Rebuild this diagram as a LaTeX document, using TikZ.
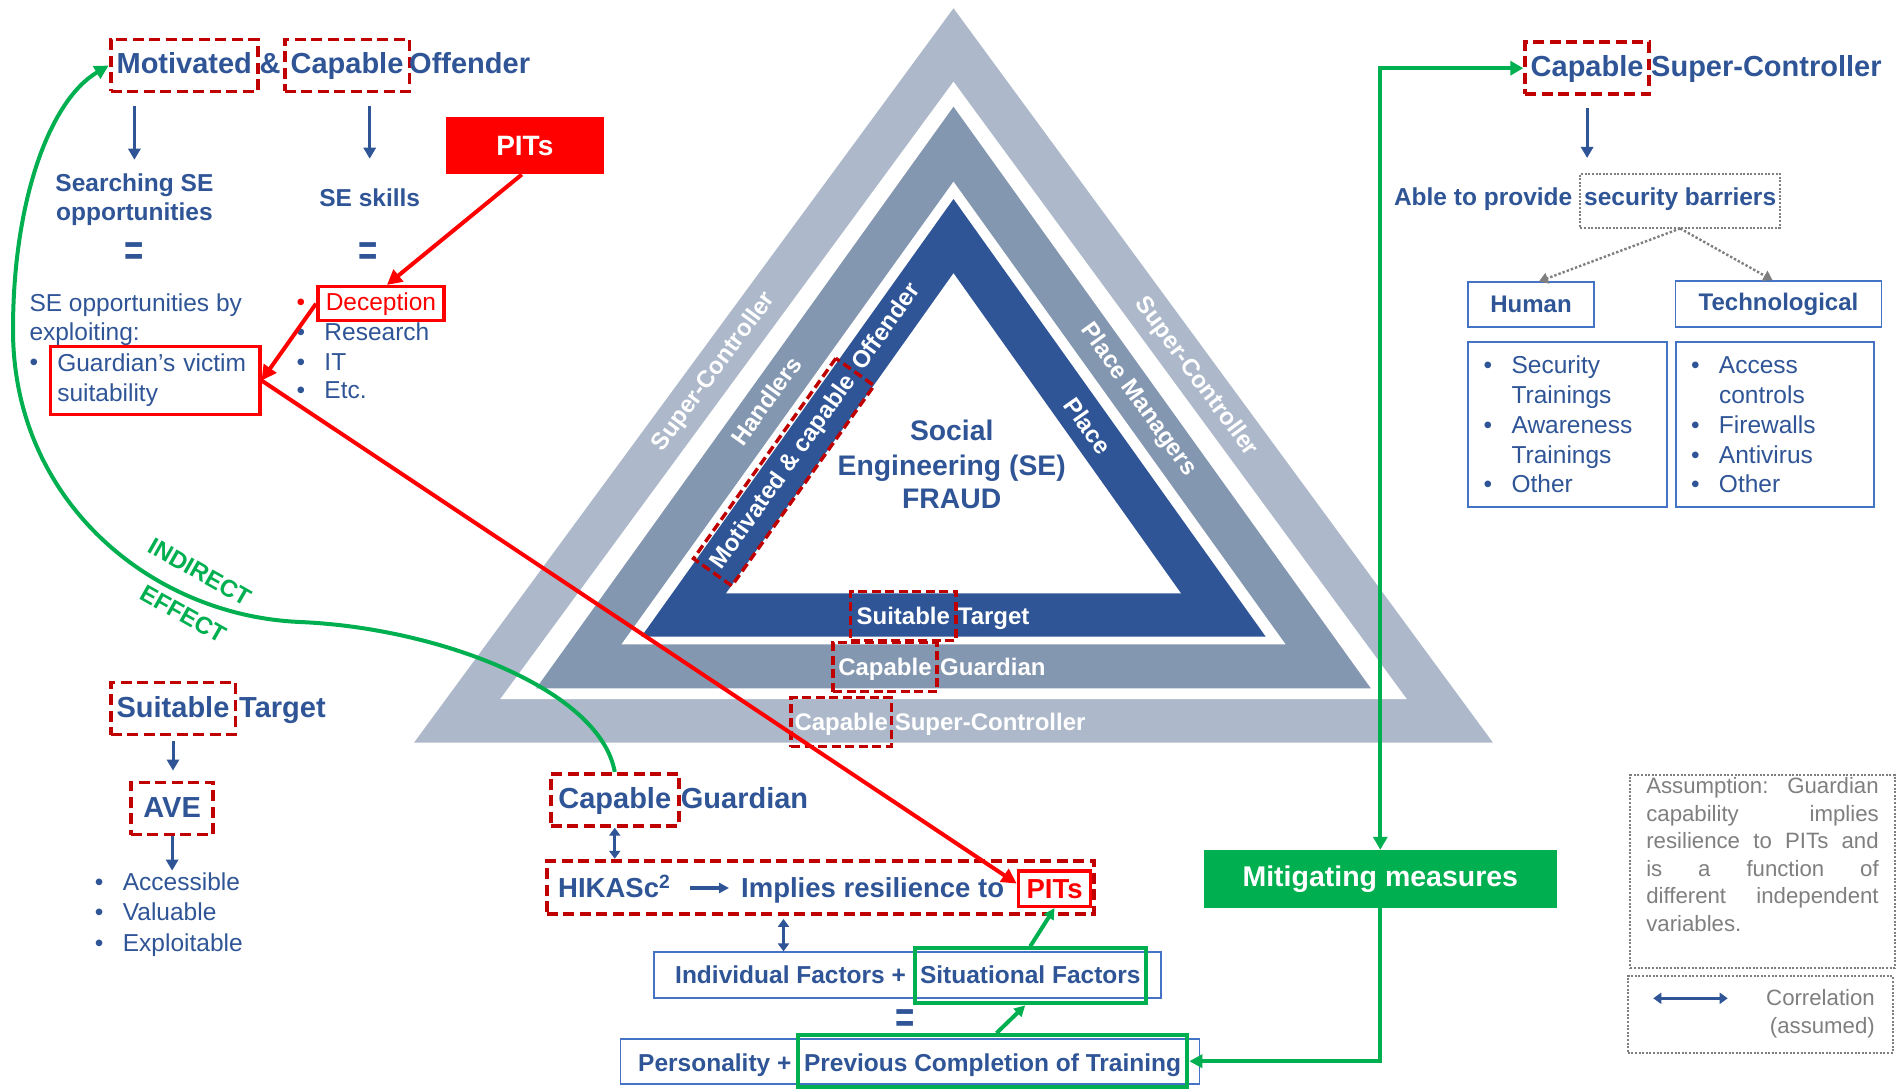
\documentclass[tikz,border=0pt]{standalone}
\usepackage{fontspec}
\usepackage{graphicx}
\setmainfont{Liberation Sans}
\usetikzlibrary{arrows.meta,calc}

\definecolor{tblue}{HTML}{2F5597}
\definecolor{dred}{HTML}{C00000}
\definecolor{bred}{HTML}{FF0000}
\definecolor{grn}{HTML}{00B050}
\definecolor{bandA}{HTML}{ADB9CA}
\definecolor{bandB}{HTML}{8497B0}
\definecolor{bandC}{HTML}{2F5597}
\definecolor{boxblue}{HTML}{4472C4}
\definecolor{gtext}{HTML}{7F7F7F}

\newcommand\fz[2]{\fontsize{#1}{#2}\selectfont}
\newcommand\bul[1]{\makebox[28pt][l]{•}#1}
\newcommand\eqsign{\scalebox{0.75}[1]{=}}

\begin{document}
\begin{tikzpicture}[x=1pt,y=1pt,
  txt/.style={inner sep=0pt, text=tblue, font=\fz{24.5}{30}},
  hd/.style={inner sep=0pt, text=tblue, font=\bfseries\fz{29}{34}},
  hdm/.style={inner sep=0pt, text=tblue, font=\bfseries\fz{27.5}{32}},
  hds/.style={inner sep=0pt, text=tblue, font=\bfseries\fz{24.5}{29}},
  bandtxt/.style={inner sep=0pt, text=white, font=\bfseries\fz{24}{28}},
  eqs/.style={inner sep=0pt, text=tblue, font=\bfseries\fz{44}{48}},
  gtxt/.style={inner sep=0pt, text=gtext, font=\fz{22.2}{27.5}},
  dbox/.style={draw=dred, line width=3.8pt, dash pattern=on 11pt off 5.5pt,
    inner xsep=6pt, inner ysep=12.5pt, text height=22pt, text depth=5pt},
  dboxs/.style={dbox, line width=3.4pt, dash pattern=on 9pt off 4.5pt,
    text height=20pt, text depth=4pt},
  rbox/.style={draw=bred, line width=3.5pt},
  bbox/.style={draw=boxblue, line width=1.8pt},
  gbox/.style={draw=grn, line width=4pt},
  gdotbox/.style={draw=gtext, line width=2pt, dash pattern=on 2pt off 1.6pt},
  barrow/.style={draw=tblue, line width=3pt, -{Triangle[length=11pt,width=12pt]}},
  darrow/.style={draw=tblue, line width=2.8pt,
    {Triangle[length=8pt,width=11pt]}-{Triangle[length=8pt,width=11pt]}},
  rarrow/.style={draw=bred, line width=4pt, -{Triangle[length=15pt,width=15pt]}},
  garrow/.style={draw=grn, line width=4pt, -{Triangle[length=13pt,width=13pt]}},
  garrowb/.style={draw=grn, line width=4pt,
    {Triangle[length=13pt,width=14pt]}-{Triangle[length=13pt,width=14pt]}},
  gdarrow/.style={draw=gtext, line width=2.4pt, dash pattern=on 2.4pt off 2pt,
    -{Triangle[length=9pt,width=11pt]}},
]
\useasboundingbox (0,0) rectangle (1899,-1089);
\fill[white] (0,0) rectangle (1899,-1089);

% ---------- layered crime triangle ----------
\fill[bandA] (953.5,-8.3) -- (414,-742.7) -- (1493,-742.7) -- cycle;
\fill[white] (953.5,-81.7) -- (500.3,-699) -- (1406.7,-699) -- cycle;
\fill[bandB] (953.5,-106.7) -- (536.2,-688.3) -- (1370.8,-688.3) -- cycle;
\fill[white] (953.5,-181.7) -- (621.5,-644.3) -- (1285.5,-644.3) -- cycle;
\fill[bandC] (953.5,-199) -- (641.3,-636.7) -- (1265.7,-636.7) -- cycle;
\fill[white] (953.5,-273.3) -- (726.1,-593.3) -- (1180.9,-593.3) -- cycle;

% side labels
\node[bandtxt, rotate=53.7] (scl) at (714,-372) {Super-Controller};
\node[bandtxt, rotate=54.3] (hnd) at (766,-401) {Handlers};
\node[bandtxt, dboxs, rotate=54.6, inner xsep=6.8pt, inner ysep=12pt,
      text height=18pt, text depth=5pt] (mcb) at (783.8,-472.1) {Motivated \& capable};
\node[bandtxt, rotate=54.6, anchor=west, text height=18pt, text depth=5pt]
      (mco) at ([shift={(54.6:3pt)}]mcb.east) {Offender};
\node[bandtxt, rotate=-53.7] (scr) at (1196,-377) {Super-Controller};
\node[bandtxt, rotate=-54.3] (pmg) at (1138,-400) {Place Managers};
\node[bandtxt, rotate=-54.6] (plc) at (1088,-426) {Place};

% centre title
\node[hd, font=\bfseries\fz{28.3}{34}, anchor=base] (so1) at (951.7,-440) {Social};
\node[hd, font=\bfseries\fz{28.3}{34}, anchor=base] (so2) at (951.7,-475) {Engineering (SE)};
\node[hd, font=\bfseries\fz{28.3}{34}, anchor=base] (so3) at (951.7,-508.3) {FRAUD};

% bottom labels
\node[bandtxt, dboxs, anchor=base west, inner xsep=5.9pt] (stb) at (849,-624) {Suitable};
\node[bandtxt, anchor=base west] (tgb) at (957.7,-624) {Target};
\node[bandtxt, dboxs, anchor=base west, inner xsep=5.2pt] (cgb) at (831.4,-675) {Capable};
\node[bandtxt, anchor=base west] (gdb) at (940,-675) {Guardian};
\node[bandtxt, dboxs, anchor=base west, inner xsep=3.5pt] (csb) at (789.3,-730) {Capable};
\node[bandtxt, anchor=base west] (scb) at (894.6,-730) {Super-Controller};

% ---------- offender column ----------
\node[hd, dbox, anchor=base west] (mot) at (108.7,-74) {Motivated};
\node[hd, anchor=base west] (amp) at (259.5,-74) {\&};
\node[hd, dbox, anchor=base west] (cap1) at (282.7,-74) {Capable};
\node[hd, anchor=base west] (off) at (409,-74) {Offender};

\node[hds, anchor=base] (srch1) at (134.4,-191.7) {Searching SE};
\node[hds, anchor=base] (srch2) at (134.4,-220) {opportunities};
\node[hds, anchor=base] (skl) at (369.7,-206.7) {SE skills};
\draw[barrow, shorten <=13pt, shorten >=14pt] (mot.south -| srch1.north) -- (srch1.north);
\draw[barrow, shorten <=13pt, shorten >=30pt] (skl.north |- cap1.south) -- (skl.north);

\node[eqs, anchor=base] (eq1) at (134.4,-265.6) {\eqsign};
\node[eqs, anchor=base] (eq2) at (368.5,-265.6) {\eqsign};

\node[txt, anchor=base west] (opp1) at (29.3,-311.7) {SE opportunities by};
\node[txt, anchor=base west] (opp2) at (29.3,-340) {exploiting:};
\node[txt, anchor=base west] (gbul) at (29.3,-370) {•};
\node[txt, rbox, align=left, text width=195.8pt, inner xsep=6.7pt,
      minimum width=209.2pt, minimum height=67.6pt] (gvs) at (155.2,-380.5)
      {Guardian’s victim\\suitability};

\node[txt, text=bred, anchor=base west] (dbul) at (296.3,-310) {•};
\node[txt, rbox, text=bred, anchor=base west, inner xsep=8pt, inner ysep=6pt,
      text height=17.3pt, text depth=4.7pt] (dec) at (316,-310) {Deception};
\node[txt, anchor=base west] (res) at (296.3,-340) {\bul{Research}};
\node[txt, anchor=base west] (itn) at (296.3,-370) {\bul{IT}};
\node[txt, anchor=base west] (etc) at (296.3,-398.5) {\bul{Etc.}};

\node[fill=bred, text=white, font=\bfseries\fz{28}{32}, inner sep=0pt,
      minimum width=158.4pt, minimum height=57pt] (pits) at (524.8,-145.8) {PITs};

% ---------- target column ----------
\node[hd, dbox, anchor=base west] (st) at (108.7,-717) {Suitable};
\node[hd, anchor=base west] (tgt) at (239,-717) {Target};
\node[hd, dbox, anchor=base west, inner xsep=12.5pt] (ave) at (129,-817) {AVE};
\node[txt, anchor=base west] (acc) at (94.7,-890.6) {\bul{Accessible}};
\node[txt, anchor=base west] (val) at (94.7,-920.5) {\bul{Valuable}};
\node[txt, anchor=base west] (exl) at (94.7,-951) {\bul{Exploitable}};
\draw[barrow, shorten <=5pt, shorten >=10pt] (st.south) -- (st.south |- ave.north);
\draw[barrow, shorten >=2pt] (ave.south) -- (ave.south |- acc.north);

% ---------- guardian chain ----------
\node[hd, dbox, anchor=base west, inner xsep=7.75pt] (cg) at (548.7,-808.3) {Capable};
\node[hd, anchor=base west] (gdn) at (680.7,-808.3) {Guardian};

\node[dbox, inner sep=0pt, text height=0pt, text depth=0pt,
      minimum width=547.2pt, minimum height=53.3pt] (hik) at (820.4,-887.35) {};
\node[hdm, anchor=base west] (hk1) at (558,-897.3) {HIKASc\textsuperscript{2}};
\node[hdm, anchor=base west] (hk2) at (741,-897.3) {Implies resilience to};
\node[hdm, rbox, text=bred, anchor=base west, inner xsep=8.1pt, inner ysep=7.5pt,
      text height=20pt, text depth=0.5pt] (hpits) at (1016.7,-898.3) {PITs};
\draw[barrow, line width=3.2pt, shorten <=20pt, shorten >=12pt,
      -{Triangle[length=10pt,width=10pt]}]
      ([yshift=9.3pt]hk1.base east) -- ([yshift=9.3pt]hk2.base west);
\draw[darrow] (cg.south) -- (cg.south |- hik.north);

\node[bbox, inner sep=0pt, minimum width=507pt, minimum height=46pt] (fac) at (907.5,-975.3) {};
\node[hds, anchor=base west] (ind) at (675,-983.3) {Individual Factors +};
\node[hds, gbox, anchor=base west, inner xsep=5.5pt, inner ysep=16pt,
      text height=19pt, text depth=4pt] (sit) at (912.5,-983.3) {Situational Factors};
\coordinate (cx) at (783.5,0);
\draw[darrow, shorten <=3pt] (hik.south -| cx) -- (fac.north -| cx);

\node[eqs, anchor=base] (eq3) at (904.8,-1032.3) {\eqsign};

\node[bbox, inner sep=0pt, minimum width=579.1pt, minimum height=45pt] (trn) at (909.95,-1061.8) {};
\node[hds, anchor=base west] (pers) at (638,-1071.7) {Personality +};
\node[hds, gbox, anchor=base west, inner xsep=6.2pt, inner ysep=15.6pt,
      text height=21pt, text depth=0pt] (trg) at (795.8,-1071.7) {Previous Completion of Training};

\draw[garrow, -{Triangle[length=11pt,width=11pt]}] ([xshift=4pt]trg.north) -- ([xshift=-5pt]sit.south);
\draw[garrow, -{Triangle[length=11pt,width=11pt]}] (sit.north) -- (hpits.south);

% ---------- super-controller column ----------
\node[hd, dbox, anchor=base west, inner xsep=5.5pt] (csc) at (1523.3,-76.7) {Capable};
\node[hd, anchor=base west] (scc) at (1651,-76.7) {Super-Controller};
\node[hds, anchor=base west] (able) at (1393.8,-205) {Able to provide};
\node[hds, gdotbox, anchor=base west, inner xsep=3.85pt, inner ysep=14pt,
      text height=17pt, text depth=8.5pt] (sb) at (1579.3,-205) {security barriers};
\draw[barrow, shorten <=12pt, shorten >=15pt] (csc.south) -- (csc.south |- sb.north);

\node[bbox, hds, font=\bfseries\fz{24}{28}, minimum width=126pt, minimum height=44.4pt] (hum) at (1531,-304.5) {Human};
\node[bbox, hds, font=\bfseries\fz{24}{28}, minimum width=205.9pt, minimum height=45.7pt] (tec) at (1778.5,-303.85) {Technological};
\draw[gdarrow] (sb.south) -- ([xshift=8pt]hum.north);
\draw[gdarrow] (sb.south) -- ([xshift=-6pt]tec.north);

\node[bbox, inner sep=0pt, minimum width=199pt, minimum height=165pt] (hl) at (1567.5,-424.8) {};
\node[bbox, inner sep=0pt, minimum width=198.4pt, minimum height=165pt] (tl) at (1774.8,-424.8) {};
\node[txt, anchor=base west] (h1) at (1483.4,-373.3) {\bul{Security}};
\node[txt, anchor=base west] (h2) at (1511.4,-403.3) {Trainings};
\node[txt, anchor=base west] (h3) at (1483.4,-433.3) {\bul{Awareness}};
\node[txt, anchor=base west] (h4) at (1511.4,-463.3) {Trainings};
\node[txt, anchor=base west] (h5) at (1483.4,-492.7) {\bul{Other}};
\node[txt, anchor=base west] (t1) at (1690.8,-373.3) {\bul{Access}};
\node[txt, anchor=base west] (t2) at (1718.8,-403.3) {controls};
\node[txt, anchor=base west] (t3) at (1690.8,-433.3) {\bul{Firewalls}};
\node[txt, anchor=base west] (t4) at (1690.8,-463.3) {\bul{Antivirus}};
\node[txt, anchor=base west] (t5) at (1690.8,-492.7) {\bul{Other}};

\node[fill=grn, text=white, font=\bfseries\fz{28.5}{32}, inner sep=0pt,
      minimum width=352.6pt, minimum height=57.7pt] (mit) at (1380.3,-878.85) {Mitigating measures};
\draw[garrowb] (csc.west) -| (mit.north);
\draw[garrow] (mit.south) |- (trg.east);

% ---------- notes ----------
\node[gtxt, gdotbox, anchor=north west, inner xsep=16pt, inner ysep=2.5pt] (asm) at (1629.3,-774)
  {\parbox[c][188pt][t]{232.4pt}{%
    \makebox[232.4pt][s]{Assumption: Guardian}\\
    \makebox[232.4pt][s]{capability implies}\\
    \makebox[232.4pt][s]{resilience to PITs and}\\
    \makebox[232.4pt][s]{is a function of}\\
    \makebox[232.4pt][s]{different independent}\\
    variables.}};
\node[gdotbox, inner sep=0pt, minimum width=265pt, minimum height=76.7pt] (cor) at (1760.2,-1014.35) {};
\node[gtxt, anchor=base east] (cr1) at (1875,-1005) {Correlation};
\node[gtxt, anchor=base east] (cr2) at (1875,-1033.3) {(assumed)};
\coordinate (ca) at (1653.3,-998.3);
\coordinate (cb) at (1727.7,-998.3);
\draw[darrow, line width=2.4pt] (ca) -- (cb);

% ---------- cross links ----------
\draw[rarrow] ([xshift=-3pt]pits.south) -- ([xshift=6pt]dec.north);
\draw[rarrow] (dec.west) -- (gvs.east);
\draw[rarrow] (gvs.east) -- ([yshift=5pt]hpits.west);

\draw[garrow, -{Triangle[length=14pt,width=14pt]}] (cg.north)
  .. controls (600,-690) and (440,-628) .. (300,-622)
  .. controls (150,-615.6) and (13,-500) .. (13,-330)
  .. controls (13,-200) and (50,-100) .. (mot.west);
\node[inner sep=0pt, text=grn, font=\bfseries\fz{24}{28}, rotate=-29.5] (ind1) at (200,-572) {INDIRECT};
\node[inner sep=0pt, text=grn, font=\bfseries\fz{24}{28}, rotate=-29.5] (ind2) at (183.3,-614) {EFFECT};

\end{tikzpicture}
\end{document}
